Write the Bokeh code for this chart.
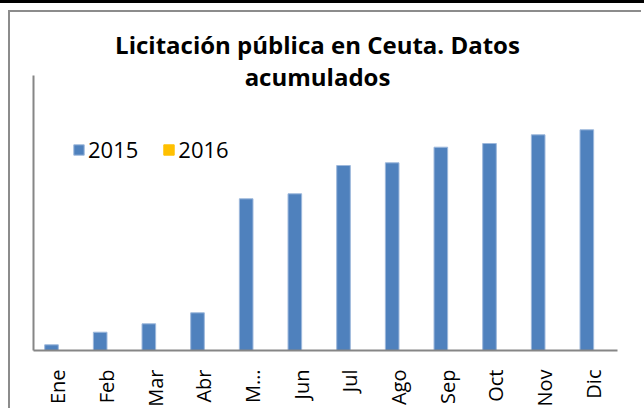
import math
from bokeh.plotting import figure
from bokeh.layouts import column
from bokeh.models import (ColumnDataSource, Range1d, FactorRange, Label, Legend, LegendItem,
                          FixedTicker, Div, CustomJSTickFormatter)
from bokeh.transform import dodge
from bokeh.embed import file_html
from bokeh.resources import INLINE

months = ["Ene", "Feb", "Mar", "Abr", "May", "Jun", "Jul", "Ago", "Sep", "Oct", "Nov", "Dic"]
v2015 = [5.7, 18.3, 26.7, 37.7, 151.7, 156.7, 185.0, 187.7, 203.3, 207.0, 215.7, 220.7]
v2016 = [float("nan")] * 12
series = ["2015", "2016"]
colors = ["#4F81BD", "#FFC000"]
title_lines = ["Licitación pública en Ceuta. Datos", "acumulados"]
y_max = 275

src = ColumnDataSource(dict(m=months, a=v2015, b=v2016))

FONT = "Open Sans"
p = figure(width=633, height=398, x_range=FactorRange(*months), y_range=Range1d(0, 338),
           output_backend="svg", toolbar_location=None,
           min_border_left=23, min_border_right=26, min_border_top=0, min_border_bottom=60)
p.title.visible = False
p.margin = (7, 0, 0, 8)
p.styles = {"border-top": "2px solid #8c8c8c", "border-left": "2px solid #8c8c8c"}
p.outline_line_color = None
p.xgrid.grid_line_color = None
p.ygrid.grid_line_color = None
p.x_range.range_padding = 0

r1 = p.vbar(x=dodge("m", -0.13, range=p.x_range), top="a", width=0.28, source=src,
            fill_color=colors[0], line_color="#9db8dc", line_width=1)
r2 = p.vbar(x=dodge("m", 0.15, range=p.x_range), top="b", width=0.28, source=src,
            fill_color=colors[1], line_color=colors[1], line_width=1)

legend = Legend(items=[LegendItem(label=series[0], renderers=[r1]),
                       LegendItem(label=series[1], renderers=[r2])],
                orientation="horizontal", location=(39, 186))
legend.border_line_color = None
legend.background_fill_alpha = 0
legend.padding = 0
legend.margin = 0
legend.spacing = 24
legend.glyph_width = 13
legend.glyph_height = 13
legend.label_standoff = 3
legend.label_text_font = FONT
legend.label_text_font_size = "22px"
legend.label_text_color = "#000000"
p.add_layout(legend, "center")

ax = p.xaxis[0]
ax.axis_line_color = "#868686"
ax.axis_line_width = 2
ax.major_tick_line_color = None
ax.minor_tick_line_color = None
ax.major_tick_out = 0
ax.major_tick_in = 0
ax.major_label_orientation = math.pi / 2
ax.major_label_standoff = 19
ax.major_label_text_font = FONT
ax.major_label_text_font_size = "20px"
ax.major_label_text_color = "#000000"
ax.formatter = CustomJSTickFormatter(code="return tick == 'May' ? 'M\u2026' : tick;")

ay = p.yaxis[0]
ay.ticker = FixedTicker(ticks=[])
ay.bounds = (0, y_max)
ay.axis_line_color = "#868686"
ay.axis_line_width = 2
ay.major_tick_line_color = None
ay.minor_tick_line_color = None
ay.major_tick_out = 0
ay.major_label_text_font_size = "0px"

for txt, yy in zip(title_lines, [306, 274]):
    p.add_layout(Label(x=284, y=yy, x_units="screen", y_units="data", text=txt,
                       text_align="center", text_baseline="alphabetic",
                       text_font=FONT, text_font_style="bold", text_font_size="24px",
                       text_color="#000000"))

band = Div(width=644, height=3, margin=0, styles={"background-color": "#000000"})
layout = column(band, p, spacing=0)

open("out.html", "w").write(file_html(layout, INLINE))
